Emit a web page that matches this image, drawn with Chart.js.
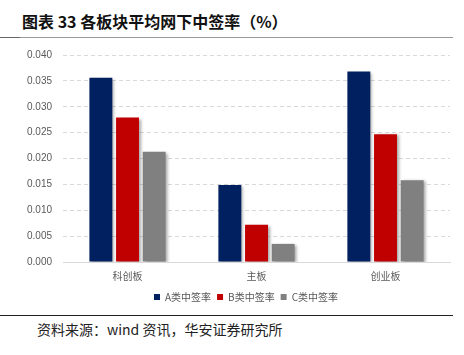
<!DOCTYPE html>
<html><head><meta charset="utf-8">
<script src="https://cdn.jsdelivr.net/npm/chart.js@4/dist/chart.umd.min.js"></script>
<style>
body{margin:0;width:464px;height:355px;background:#fff;position:relative;overflow:hidden;font-family:"Noto Sans CJK SC",sans-serif;}
#title{position:absolute;left:22px;top:10px;font-size:16px;line-height:23px;font-weight:bold;color:#111;}
#line1{position:absolute;left:0;top:37px;width:453px;height:1px;background:#999;}
#line1b{position:absolute;left:0;top:37px;width:20px;height:1px;background:#666;}
#line2{position:absolute;left:0;top:315px;width:453px;height:1px;background:#222;}
#src{position:absolute;left:37px;top:319px;font-size:14px;line-height:20px;color:#222;}
#wrap{position:absolute;left:0;top:38px;width:464px;height:274px;}
</style></head><body>
<div id="title">图表 33 各板块平均网下中签率（%）</div>
<div id="line1"></div><div id="line1b"></div>
<div id="wrap"><canvas id="c"></canvas></div>
<div id="line2"></div>
<div id="src">资料来源：wind 资讯，华安证券研究所</div>
<script>
const categories = ["科创板", "主板", "创业板"];
const seriesNames = ["A类中签率", "B类中签率", "C类中签率"];
const seriesA = [0.0356, 0.0149, 0.0368];
const seriesB = [0.0279, 0.0072, 0.0247];
const seriesC = [0.0213, 0.0035, 0.0158];
const colors = ["#002060", "#C00000", "#808080"];

const shadow = {
  id: 'shadow',
  beforeDatasetsDraw(chart){ const c=chart.ctx; c.save(); c.shadowColor='rgba(0,0,0,0.35)'; c.shadowBlur=3; c.shadowOffsetX=2; c.shadowOffsetY=1; },
  afterDatasetsDraw(chart){ chart.ctx.restore(); }
};
const legendShift = {
  id: 'legendShift',
  afterLayout(chart){ const l = chart.legend; if (l) { l.left += 13; l.right += 13; } }
};

new Chart(document.getElementById('c'), {
  type: 'bar',
  data: {
    labels: categories,
    datasets: [seriesA, seriesB, seriesC].map((d,i)=>({
      label: seriesNames[i], data: d, backgroundColor: colors[i],
      categoryPercentage: 0.62, barPercentage: 0.86
    }))
  },
  options: {
    responsive: true, maintainAspectRatio: false, animation: false,
    layout: {padding: {left: 16, right: 14, top: 5, bottom: 0}},
    plugins: {
      legend: {position: 'bottom', labels: {boxWidth: 6, boxHeight: 6, padding: 6, color: '#595959', font: {size: 10, family: '"Noto Sans CJK SC"'}}},
      tooltip: {enabled: false}
    },
    scales: {
      y: {
        min: 0, max: 0.04,
        ticks: {stepSize: 0.005, color: '#595959', font: {size: 10, family: 'Liberation Sans'}, padding: 11,
          callback: v => v.toFixed(3)},
        grid: {color: '#d9d9d9', drawTicks: false},
        border: {display: false, dash: [4,3]}
      },
      x: {
        ticks: {color: '#595959', font: {size: 10, family: '"Noto Sans CJK SC"'}, padding: 8},
        grid: {display: false, drawTicks: false},
        border: {color: '#d9d9d9'},
        afterFit(scale){ scale.height -= 4; }
      }
    }
  },
  plugins: [shadow, legendShift]
});
</script>
</body></html>
